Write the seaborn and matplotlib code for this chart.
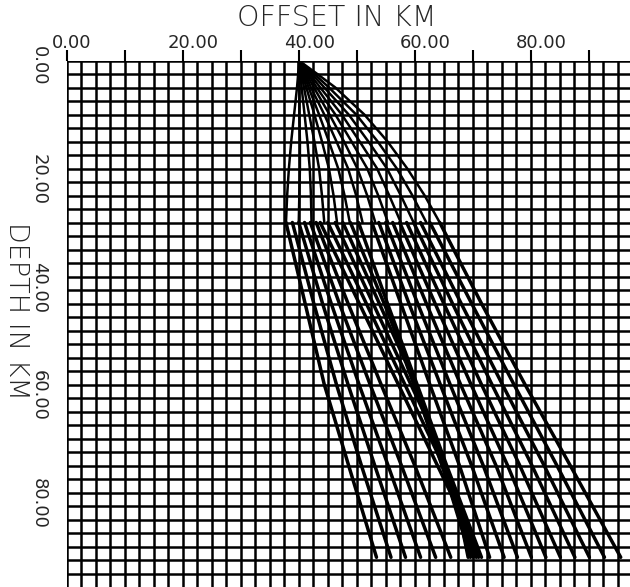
import matplotlib

matplotlib.use("Agg")

import matplotlib.pyplot as plt
import matplotlib.transforms as mtransforms
import numpy as np
import pandas as pd
import seaborn as sns

X_MAJOR = [0, 10, 20, 30, 40, 50, 60, 70, 80, 90]
X_LABELS = ["0.00", "", "20.00", "", "40.00", "", "60.00", "", "80.00", ""]
Y_MAJOR = [0, 10, 20, 30, 40, 50, 60, 70, 80, 90]
Y_LABELS = ["0.00", "", "20.00", "", "40.00", "", "60.00", "", "80.00", ""]
GRID_STEP = 2.5
GRID_MAX = 95.0

# rays from the source down to the 30 km level (offset in km at each depth)
UPPER_DEPTHS = [0, 2.5, 5, 10, 15, 20, 25, 30]
UPPER_OFFSETS = [
    [40.0, 39.9, 39.7, 39.2, 38.7, 38.3, 38.0, 37.8],
    [40.0, 40.0, 40.1, 40.1, 40.2, 40.2, 40.1, 40.0],
    [40.0, 40.3, 40.5, 41.0, 41.5, 41.9, 42.1, 42.2],
    [40.0, 40.5, 40.9, 41.8, 42.7, 43.5, 44.0, 44.4],
    [40.0, 40.7, 41.3, 42.7, 44.0, 45.2, 46.0, 46.6],
    [40.0, 40.9, 41.7, 43.5, 45.2, 46.8, 47.9, 48.8],
    [40.0, 41.1, 42.1, 44.4, 46.5, 48.5, 49.9, 51.0],
    [40.0, 41.3, 42.6, 45.3, 47.8, 50.1, 51.8, 53.2],
    [40.0, 41.6, 43.1, 46.3, 49.1, 51.8, 53.7, 55.4],
    [40.0, 41.9, 43.7, 47.4, 50.5, 53.5, 55.6, 57.6],
    [40.0, 42.3, 44.4, 48.6, 52.0, 55.2, 57.6, 59.8],
    [40.0, 42.7, 45.2, 49.9, 53.6, 56.9, 59.6, 62.0],
    [40.0, 43.2, 46.3, 51.3, 55.3, 58.7, 61.7, 64.3],
]

# rays below the 30 km level down to the end of the section
LOWER_DEPTHS = [30, 45, 60, 75, 92]
LOWER_OFFSETS = [
    [37.8, 41.1, 44.4, 48.6, 53.4],
    [38.9, 42.6, 46.5, 50.8, 55.9],
    [40.0, 44.1, 48.5, 53.1, 58.4],
    [41.0, 45.6, 50.4, 55.4, 61.0],
    [42.0, 47.0, 52.3, 57.7, 63.6],
    [43.0, 48.5, 54.2, 60.0, 66.2],
    [50.3, 55.3, 60.4, 65.5, 71.5],
    [52.6, 57.6, 62.6, 67.7, 72.9],
    [53.8, 59.0, 64.4, 69.8, 75.4],
    [55.0, 60.5, 66.1, 71.8, 77.7],
    [56.2, 62.0, 67.9, 74.0, 80.1],
    [57.4, 63.5, 69.7, 76.0, 82.6],
    [58.6, 65.0, 71.5, 78.1, 85.1],
    [59.8, 66.5, 73.3, 80.2, 87.6],
    [61.0, 68.0, 75.1, 82.3, 90.1],
    [62.6, 69.8, 77.1, 84.5, 92.7],
    [64.3, 71.5, 79.0, 86.8, 95.5],
]

# rays that run into the dark band (caustic) one after another
FEEDER_JOIN_DEPTH = [47, 56, 65, 74, 83]
FEEDER_START = [48.9, 47.6, 46.3, 45.0, 43.7]
FEEDER_JOIN = [55.5, 58.5, 61.5, 64.5, 67.5]
FEEDER_END = [71.0, 70.6, 70.1, 69.6, 69.2]
FEEDER_TOP, FEEDER_BOTTOM = 30, 92


def ray_table(depths, offsets, name) -> pd.DataFrame:
    rows = []
    for i, xs in enumerate(offsets):
        for d, x in zip(depths, xs):
            rows.append({"ray": f"{name}{i}", "offset": x, "depth": d})
    return pd.DataFrame(rows)


def feeder_table() -> pd.DataFrame:
    depths = [[FEEDER_TOP, dj, FEEDER_BOTTOM] for dj in FEEDER_JOIN_DEPTH]
    offsets = [list(p) for p in zip(FEEDER_START, FEEDER_JOIN, FEEDER_END)]
    frames = [ray_table(d, [o], f"feed{i}_") for i, (d, o) in enumerate(zip(depths, offsets))]
    return pd.concat(frames, ignore_index=True)


def main() -> None:
    sns.set_theme(style="white")
    plt.rcParams["font.family"] = ["DejaVu Sans"]

    fig = plt.figure(figsize=(6.3, 5.87), dpi=100)
    ax = fig.add_axes([66.7 / 630, 0.0, (630 - 66.7) / 630, (587 - 60.5) / 587])

    for table, lw in (
        (ray_table(UPPER_DEPTHS, UPPER_OFFSETS, "up"), 1.8),
        (ray_table(LOWER_DEPTHS, LOWER_OFFSETS, "low"), 2.5),
        (feeder_table(), 2.5),
    ):
        sns.lineplot(
            data=table,
            x="offset",
            y="depth",
            units="ray",
            estimator=None,
            sort=False,
            color="black",
            lw=lw,
            legend=False,
            ax=ax,
        )

    ax.set_xlim(0, 97.1)
    ax.set_ylim(97.5, 0)
    for spine in ax.spines.values():
        spine.set_visible(False)

    ax.xaxis.tick_top()
    ax.set_xticks(X_MAJOR)
    ax.set_xticklabels(X_LABELS)
    ax.set_yticks(Y_MAJOR)
    ax.set_yticklabels(Y_LABELS)
    minor = np.arange(0, GRID_MAX + 0.1, GRID_STEP)
    ax.set_xticks(minor, minor=True)
    ax.set_yticks(minor, minor=True)
    ax.set_axisbelow(True)
    ax.grid(which="both", color="black", lw=1.8)

    ax.tick_params(which="minor", length=0)
    ax.tick_params(axis="x", which="major", direction="out", length=8,
                   width=1.5, color="black", pad=0.8, labelsize=13)
    ax.tick_params(axis="y", which="major", direction="out", length=8.4,
                   width=1.5, color="black", pad=5.0, labelsize=13)

    shift_x = mtransforms.ScaledTranslation(-15 / 100, 0, fig.dpi_scale_trans)
    for lab in ax.get_xticklabels():
        lab.set_ha("left")
        lab.set_va("baseline")
        lab.set_transform(lab.get_transform() + shift_x)
    shift_y = mtransforms.ScaledTranslation(0, 15 / 100, fig.dpi_scale_trans)
    for lab in ax.get_yticklabels():
        lab.set_rotation(-90)
        lab.set_va("top")
        lab.set_transform(lab.get_transform() + shift_y)

    ax.set_xlabel("")
    ax.set_ylabel("")
    fig.text(337 / 630, 1 - 26 / 587, "OFFSET IN KM", ha="center", va="baseline",
             fontsize=20.5, fontweight="light")
    fig.text(16 / 630, 1 - 311 / 587, "DEPTH IN KM", ha="center", va="center",
             rotation=-90, fontsize=19.5, fontweight="light")

    fig.savefig("out.png", dpi=100)
    plt.close(fig)


if __name__ == "__main__":
    main()
